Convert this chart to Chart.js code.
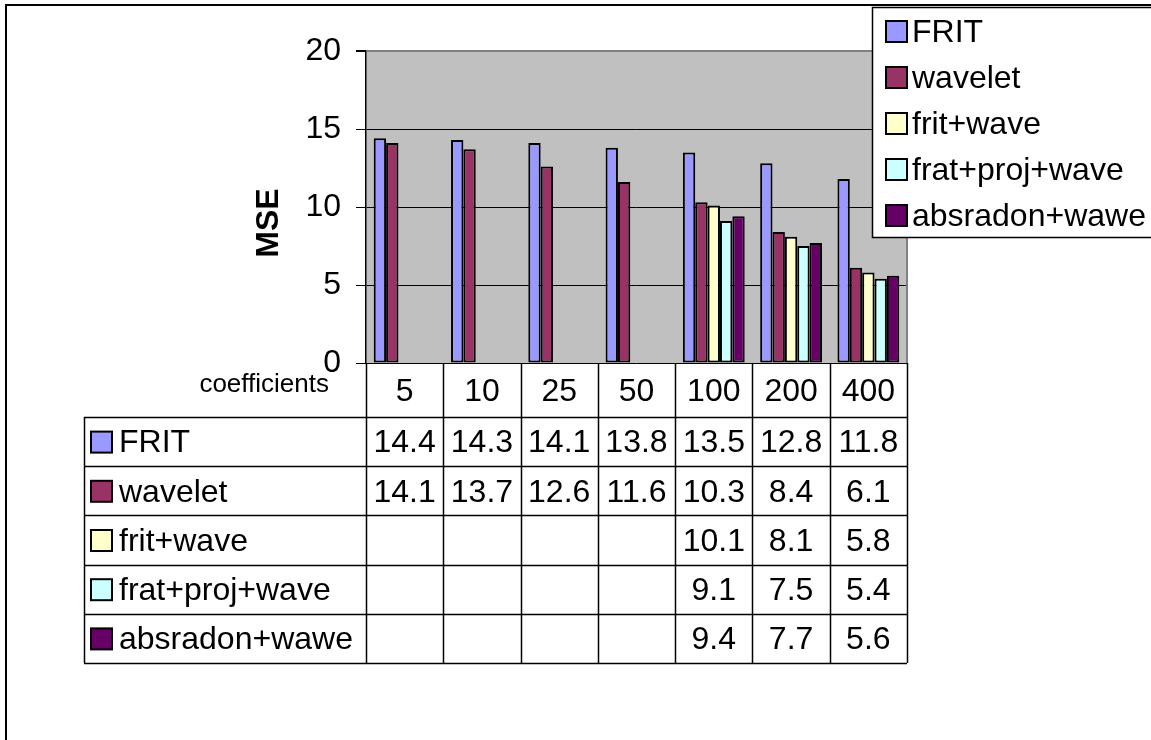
<!DOCTYPE html>
<html>
<head>
<meta charset="utf-8">
<title>MSE vs coefficients</title>
<script src="https://cdn.jsdelivr.net/npm/chart.js@4.4.1/dist/chart.umd.min.js"></script>
<style>
  html, body { margin: 0; padding: 0; background: #fff; }
  canvas { display: block; }
</style>
</head>
<body>
<canvas id="mse-chart" width="1151" height="740"></canvas>
<script>
const categories = ["5", "10", "25", "50", "100", "200", "400"];
const frit = [14.4, 14.3, 14.1, 13.8, 13.5, 12.8, 11.8];
const wavelet = [14.1, 13.7, 12.6, 11.6, 10.3, 8.4, 6.1];
const fritWave = [null, null, null, null, 10.1, 8.1, 5.8];
const fratProjWave = [null, null, null, null, 9.1, 7.5, 5.4];
const absradonWawe = [null, null, null, null, 9.4, 7.7, 5.6];
const seriesNames = ["FRIT", "wavelet", "frit+wave", "frat+proj+wave", "absradon+wawe"];
const seriesColors = ["#9999FF", "#993366", "#FFFFCC", "#CCFFFF", "#660066"];
const yTicks = [0, 5, 10, 15, 20];

const FONT = "'Liberation Sans', Arial, sans-serif";
Chart.defaults.font.family = FONT;
Chart.defaults.color = "#000";

const allSeries = [frit, wavelet, fritWave, fratProjWave, absradonWawe];

// background, axis title, legend box, data table and frame, like the Excel sheet
const excelParts = {
    id: "excelParts",
    beforeDraw(chart) {
        const c = chart.ctx;
        const a = chart.chartArea;
        c.save();
        c.fillStyle = "#fff";
        c.fillRect(0, 0, chart.width, chart.height);
        c.fillStyle = "#C0C0C0";
        c.fillRect(a.left, a.top, a.right - a.left, a.bottom - a.top);
        c.restore();
    },
    afterDraw(chart) {
        const c = chart.ctx;
        const a = chart.chartArea;
        const n = categories.length;
        const colW = (a.right - a.left) / n;
        c.save();

        // right edge of plot area
        c.strokeStyle = "#808080";
        c.lineWidth = 2;
        c.beginPath();
        c.moveTo(a.right, a.top);
        c.lineTo(a.right, a.bottom);
        c.stroke();

        // outer frame
        c.strokeStyle = "#000";
        c.lineWidth = 2;
        c.beginPath();
        c.moveTo(6, chart.height);
        c.lineTo(6, 5);
        c.lineTo(chart.width, 5);
        c.stroke();

        // y axis title
        c.save();
        c.translate(269, 223);
        c.rotate(-Math.PI / 2);
        c.fillStyle = "#000";
        c.font = "bold 32px " + FONT;
        c.textAlign = "center";
        c.textBaseline = "middle";
        c.fillText("MSE", 0, 0);
        c.restore();

        // data table
        const headerH = 54;
        const rowH = 49.2;
        const tableLeft = 84;
        const rowTop = a.bottom + headerH;
        const tableBottom = rowTop + rowH * seriesNames.length;
        c.strokeStyle = "#000";
        c.lineWidth = 1.5;
        c.beginPath();
        for (let i = 0; i <= n; i++) {
            const bx = Math.round(a.left + i * colW) + 0.5;
            c.moveTo(bx, a.bottom);
            c.lineTo(bx, tableBottom);
        }
        c.moveTo(tableLeft + 0.5, rowTop);
        c.lineTo(tableLeft + 0.5, tableBottom);
        for (let r = 0; r <= seriesNames.length; r++) {
            const ry = Math.round(rowTop + r * rowH) + 0.5;
            c.moveTo(tableLeft, ry);
            c.lineTo(a.right, ry);
        }
        c.stroke();

        c.fillStyle = "#000";
        c.textAlign = "center";
        c.textBaseline = "middle";
        c.font = "32px " + FONT;
        const xs = chart.scales.x;
        categories.forEach((cat, i) => {
            c.fillText(cat, xs.getPixelForValue(i), a.bottom + headerH / 2 + 2);
        });
        c.font = "26px " + FONT;
        c.textAlign = "right";
        c.fillText("coefficients", 329, a.bottom + 22);

        c.font = "32px " + FONT;
        allSeries.forEach((vals, r) => {
            const cy = rowTop + r * rowH + rowH / 2 + 2;
            c.textAlign = "center";
            vals.forEach((v, i) => {
                if (v !== null) c.fillText(v.toFixed(1), xs.getPixelForValue(i), cy);
            });
            c.fillStyle = seriesColors[r];
            c.fillRect(91, cy - 12, 21, 21);
            c.strokeStyle = "#000";
            c.lineWidth = 2;
            c.strokeRect(91, cy - 12, 21, 21);
            c.fillStyle = "#000";
            c.textAlign = "left";
            c.fillText(seriesNames[r], 119, cy);
        });

        // legend box
        c.fillStyle = "#fff";
        c.fillRect(872, 7, 300, 230);
        c.strokeStyle = "#000";
        c.lineWidth = 1.5;
        c.strokeRect(872.5, 7.5, 300, 230);
        seriesNames.forEach((name, r) => {
            const cy = 32 + r * 46;
            c.fillStyle = seriesColors[r];
            c.fillRect(886, cy - 11, 21, 21);
            c.strokeStyle = "#000";
            c.lineWidth = 2;
            c.strokeRect(886, cy - 11, 21, 21);
            c.fillStyle = "#000";
            c.textAlign = "left";
            c.fillText(name, 912, cy + 1);
        });
        c.restore();
    },
};

const chart = new Chart(document.getElementById("mse-chart"), {
    type: "bar",
    data: {
        labels: categories,
        datasets: seriesNames.map((name, i) => ({
            label: name,
            data: allSeries[i],
            backgroundColor: seriesColors[i],
            borderColor: "#000",
            borderWidth: 2,
            borderSkipped: false,
            barPercentage: 1.0,
            categoryPercentage: 0.8,
        })),
    },
    options: {
        responsive: false,
        animation: false,
        layout: {
            padding: { left: 240, top: 51, right: 244, bottom: 377 },
        },
        plugins: {
            legend: { display: false },
            tooltip: { enabled: false },
        },
        scales: {
            x: {
                display: false,
            },
            y: {
                min: 0,
                max: 20,
                afterBuildTicks: (s) => {
                    s.ticks = yTicks.map((v) => ({ value: v }));
                },
                afterFit: (s) => {
                    s.width = 126;
                },
                ticks: {
                    padding: 15,
                    color: "#000",
                    font: { size: 32 },
                },
                grid: {
                    color: (ctx) => (ctx.tick && ctx.tick.value === 20 ? "#808080" : "#000"),
                    lineWidth: (ctx) => (ctx.tick && ctx.tick.value === 20 ? 2 : 1),
                    tickColor: "#000",
                    tickLength: 10,
                },
                border: { color: "#000", width: 1.5 },
            },
        },
    },
    plugins: [excelParts],
});
</script>
</body>
</html>
